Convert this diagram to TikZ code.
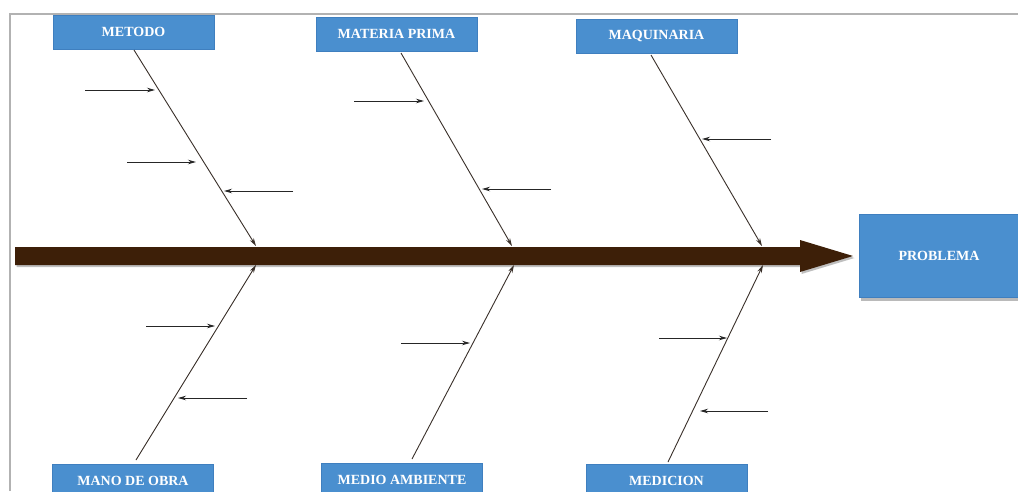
\documentclass[tikz,border=0pt]{standalone}
\usepackage{fontspec}
\setmainfont{Liberation Serif}
\usetikzlibrary{arrows.meta,shadows}
\definecolor{boxblue}{HTML}{4A8FCF}
\definecolor{boxedge}{HTML}{3F7FBF}
\definecolor{spine}{HTML}{3D1F08}
\definecolor{bone}{HTML}{3A302A}
\tikzset{
  cause/.style={draw=boxedge, line width=0.8pt, fill=boxblue, minimum width=161pt, minimum height=34pt, inner sep=0pt,
    font=\fontsize{14}{16}\selectfont\bfseries, text=white},
  effect/.style={draw=boxedge, line width=0.8pt, fill=boxblue, minimum width=160pt, minimum height=83pt, inner sep=0pt,
    font=\fontsize{14}{16}\selectfont\bfseries, text=white,
    drop shadow={shadow xshift=2pt, shadow yshift=-3pt, fill=black!45, opacity=0.6}},
  bonearrow/.style={draw=bone, line width=0.9pt, -{Stealth[length=8pt,width=4.5pt]}},
  subarrow/.style={draw=black!85, line width=0.9pt, -{Stealth[length=8pt,width=4.5pt]}},
}
\begin{document}
\begin{tikzpicture}[x=1pt,y=-1pt]
\useasboundingbox (0,0) rectangle (1018,491);
\clip (0,0) rectangle (1018,491);
\fill[white] (0,0) rectangle (1018,491);
% frame
\draw[black!30, line width=1.8pt] (10,491) -- (10,14) -- (1018,14);

% main spine
\fill[spine, drop shadow={shadow xshift=1.5pt, shadow yshift=-2pt, fill=black!50, opacity=0.5}]
  (15,247) -- (800,247) -- (800,240) -- (853,256) -- (800,272) -- (800,265) -- (15,265) -- cycle;

% category boxes
\node[cause] (metodo)  at (133.5,32)  {METODO};
\node[cause] (materia) at (396.5,34)  {MATERIA PRIMA};
\node[cause] (maquina) at (656.5,36)  {MAQUINARIA};
\node[cause] (mano)    at (133,481)   {MANO DE OBRA};
\node[cause] (medio)   at (402,480)   {MEDIO AMBIENTE};
\node[cause] (medicion) at (666.5,481) {MEDICION};
\node[effect] (problema) at (939,256) {PROBLEMA};

% bone ends on the spine
\coordinate (m1) at (256,246);
\coordinate (m2) at (512,246);
\coordinate (m3) at (762,246);
\coordinate (m4) at (256,265);
\coordinate (m5) at (514,265);
\coordinate (m6) at (763,265);

\draw[bonearrow] (134,50) -- (m1);
\draw[bonearrow] (401,53) -- (m2);
\draw[bonearrow] (651,55) -- (m3);
\draw[bonearrow] (136,460) -- (m4);
\draw[bonearrow] (412,459) -- (m5);
\draw[bonearrow] (668,462) -- (m6);

% sub-causes
\coordinate (a1) at (85,90);   \coordinate (b1) at (155,90);
\coordinate (a2) at (127,162); \coordinate (b2) at (196,162);
\coordinate (a3) at (293,191); \coordinate (b3) at (224,191);
\coordinate (a4) at (354,101); \coordinate (b4) at (424,101);
\coordinate (a5) at (551,189); \coordinate (b5) at (482,189);
\coordinate (a6) at (771,139); \coordinate (b6) at (702,139);
\coordinate (a7) at (146,326); \coordinate (b7) at (215,326);
\coordinate (a8) at (247,398); \coordinate (b8) at (178,398);
\coordinate (a9) at (401,343); \coordinate (b9) at (470,343);
\coordinate (a10) at (659,338); \coordinate (b10) at (727,338);
\coordinate (a11) at (768,411); \coordinate (b11) at (700,411);
\foreach \i in {1,...,11} \draw[subarrow] (a\i) -- (b\i);
\end{tikzpicture}
\end{document}
